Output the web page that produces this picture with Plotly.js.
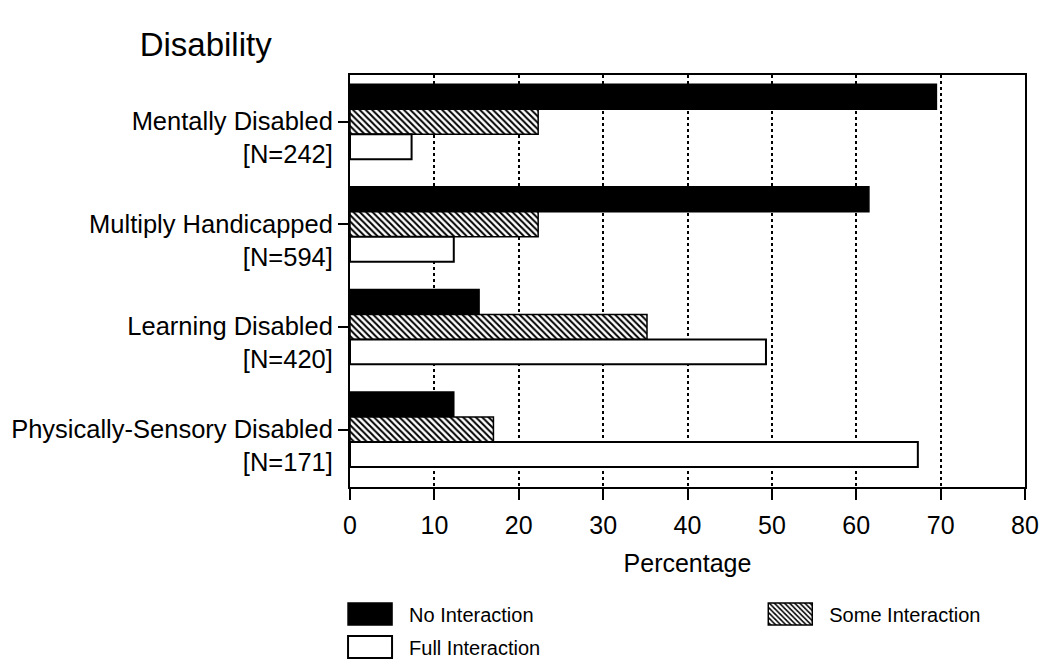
<!DOCTYPE html>
<html>
<head>
<meta charset="utf-8">
<script src="https://cdn.plot.ly/plotly-3.0.1.min.js"></script>
<style>html,body{margin:0;padding:0;background:#fff;}#chart{width:1042px;height:667px;}</style>
</head>
<body>
<div id="chart"></div>
<script>
const categories = ['Mentally Disabled', 'Multiply Handicapped', 'Learning Disabled', 'Physically-Sensory Disabled'];
const nCounts = [242, 594, 420, 171];
const noInteraction = [69.5, 61.5, 15.3, 12.3];
const someInteraction = [22.3, 22.3, 35.2, 17.0];
const fullInteraction = [7.3, 12.3, 49.3, 67.3];
const xTicks = [0, 10, 20, 30, 40, 50, 60, 70, 80];

const tickLabels = categories.map((c, i) => c + '<br>[N=' + nCounts[i] + ']');
const font = 'Liberation Sans, Arial, Helvetica, sans-serif';

const traces = [
  {
    type: 'bar', orientation: 'h', name: 'No Interaction', legend: 'legend',
    y: categories, x: noInteraction,
    marker: {color: '#000', line: {color: '#000', width: 1.5}}
  },
  {
    type: 'bar', orientation: 'h', name: 'Some Interaction', legend: 'legend2',
    y: categories, x: someInteraction,
    marker: {color: '#fff', line: {color: '#000', width: 1.5},
      pattern: {shape: '\\', fgcolor: '#000', bgcolor: '#fff', size: 4.5, solidity: 0.45}}
  },
  {
    type: 'bar', orientation: 'h', name: 'Full Interaction', legend: 'legend3',
    y: categories, x: fullInteraction,
    marker: {color: '#fff', line: {color: '#000', width: 2}}
  }
];

const legendBase = {
  xref: 'container', yref: 'container', xanchor: 'left', yanchor: 'middle',
  font: {size: 20, family: font}, itemwidth: 68, bgcolor: 'rgba(0,0,0,0)'
};

const layout = {
  width: 1042, height: 667,
  paper_bgcolor: '#fff', plot_bgcolor: '#fff',
  margin: {l: 350, r: 17, t: 75, b: 180, autoexpand: false},
  font: {family: font, color: '#000', size: 22},
  barmode: 'group', bargap: 0.27, bargroupgap: 0,
  title: {text: 'Disability', font: {family: font, size: 33, color: '#000'},
    xref: 'container', yref: 'container', x: 0.134, xanchor: 'left', y: 1 - 44 / 667, yanchor: 'middle'},
  xaxis: {
    automargin: false,
    range: [0, 80], tickvals: xTicks, ticktext: xTicks.map(String), tickangle: 0,
    showgrid: true, gridcolor: '#000', griddash: 'dot', gridwidth: 2,
    showline: true, linecolor: '#000', linewidth: 2, mirror: true,
    ticks: 'outside', ticklen: 11, tickwidth: 2, tickcolor: '#000',
    ticklabelstandoff: 4,
    tickfont: {size: 25, family: font},
    zeroline: false,
    title: {text: 'Percentage', font: {size: 25, family: font}, standoff: 16}
  },
  yaxis: {
    automargin: false,
    type: 'category', range: [3.56, -0.455],
    tickvals: categories, ticktext: tickLabels,
    showgrid: false, showline: true, linecolor: '#000', linewidth: 2, mirror: true,
    ticks: 'outside', ticklen: 10, tickwidth: 2, tickcolor: '#000',
    ticklabelshift: -16,
    tickfont: {size: 25.5, family: font}
  },
  showlegend: true,
  legend: Object.assign({}, legendBase, {x: 0.3177, y: 1 - 614 / 667}),
  legend2: Object.assign({}, legendBase, {x: 0.721, y: 1 - 614 / 667}),
  legend3: Object.assign({}, legendBase, {x: 0.3177, y: 1 - 647 / 667})
};

Plotly.newPlot('chart', traces, layout, {staticPlot: true}).then(function (gd) {
  gd.querySelectorAll('.legendpoints path').forEach(function (p) {
    p.setAttribute('d', 'M22,11H-22V-11H22Z');
  });
});
</script>
</body>
</html>
